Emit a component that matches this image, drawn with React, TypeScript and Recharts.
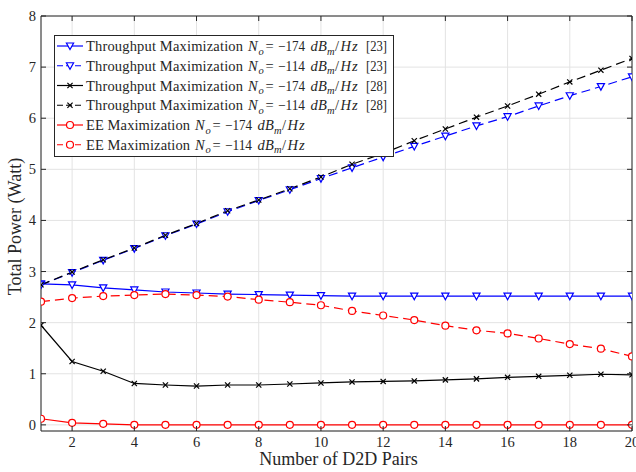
import React from 'react';
import { LineChart, Line, XAxis, YAxis, CartesianGrid, ReferenceArea, Legend } from 'recharts';

const pairs = [1, 2, 3, 4, 5, 6, 7, 8, 9, 10, 11, 12, 13, 14, 15, 16, 17, 18, 19, 20];
const tm174ref23 = [2.76, 2.74, 2.68, 2.64, 2.6, 2.58, 2.56, 2.55, 2.54, 2.53, 2.52, 2.52, 2.52, 2.52, 2.52, 2.52, 2.52, 2.52, 2.52, 2.52];
const tm114ref23 = [2.74, 2.98, 3.22, 3.45, 3.7, 3.93, 4.17, 4.39, 4.6, 4.82, 5.03, 5.24, 5.45, 5.65, 5.85, 6.03, 6.24, 6.44, 6.62, 6.81];
const tm174ref28 = [1.95, 1.24, 1.05, 0.81, 0.78, 0.76, 0.78, 0.78, 0.8, 0.82, 0.84, 0.85, 0.86, 0.88, 0.9, 0.93, 0.95, 0.97, 0.99, 0.98];
const tm114ref28 = [2.74, 2.99, 3.23, 3.46, 3.71, 3.94, 4.19, 4.4, 4.62, 4.85, 5.1, 5.31, 5.56, 5.79, 6.02, 6.24, 6.47, 6.71, 6.94, 7.17];
const ee174 = [0.12, 0.04, 0.02, 0, 0, 0, 0, 0, 0, 0, 0, 0, 0, 0, 0, 0, 0, 0, 0, 0];
const ee114 = [2.41, 2.48, 2.52, 2.54, 2.56, 2.54, 2.51, 2.45, 2.4, 2.34, 2.23, 2.14, 2.05, 1.94, 1.85, 1.79, 1.69, 1.58, 1.49, 1.34];

const xTicks = [2, 4, 6, 8, 10, 12, 14, 16, 18, 20];
const yTicks = [0, 1, 2, 3, 4, 5, 6, 7, 8];

const seriesKeys = ['tm174ref23', 'tm114ref23', 'tm174ref28', 'tm114ref28', 'ee174', 'ee114'];
const seriesValues = [tm174ref23, tm114ref23, tm174ref28, tm114ref28, ee174, ee114];
const seriesPrefix = [
  'Throughput Maximization',
  'Throughput Maximization',
  'Throughput Maximization',
  'Throughput Maximization',
  'EE Maximization',
  'EE Maximization',
];
const seriesNoise = ['174', '114', '174', '114', '174', '114'];
const seriesRef = ['[23]', '[23]', '[28]', '[28]', '', ''];
const seriesColor = ['#0000ff', '#0000ff', '#000000', '#000000', '#ff0000', '#ff0000'];
const seriesDashed = [false, true, false, true, false, true];
const seriesMarker = ['tri', 'tri', 'x', 'x', 'circle', 'circle'];

const data = pairs.map((p, i) => {
  const row: Record<string, number> = { x: p };
  seriesKeys.forEach((k, j) => {
    row[k] = seriesValues[j][i];
  });
  return row;
});

const W = 636;
const H = 472;
const M = { top: 16, right: 4, left: 0, bottom: 0 };
const YW = 41;
const XH = 41;
const plotW = W - M.left - M.right - YW;
const plotH = H - M.top - M.bottom - XH;
const FONT = '"Liberation Serif", "Times New Roman", serif';
const AX = '#262626';

// legend box geometry
const LG = { left: 54, top: 35, width: 339, height: 121, row: 19.75, first: 11 };

function Marker({ kind, cx, cy, color }: { kind: string; cx: number; cy: number; color: string }) {
  if (kind === 'tri') {
    const pts = `${cx - 3.6},${cy - 3} ${cx + 3.6},${cy - 3} ${cx},${cy + 3.6}`;
    return <polygon points={pts} fill="#fff" stroke={color} strokeWidth={1.2} />;
  }
  if (kind === 'x') {
    const s = 2.6;
    return (
      <g stroke={color} strokeWidth={1.2}>
        <line x1={cx - s} y1={cy - s} x2={cx + s} y2={cy + s} />
        <line x1={cx - s} y1={cy + s} x2={cx + s} y2={cy - s} />
      </g>
    );
  }
  return <circle cx={cx} cy={cy} r={3.5} fill="#fff" stroke={color} strokeWidth={1.2} />;
}

const makeDot = (kind: string, color: string) => (props: any) => {
  const { cx, cy, index } = props;
  if (cx == null || cy == null) return <g key={index} />;
  return (
    <g key={`${kind}-${index}`}>
      <Marker kind={kind} cx={cx} cy={cy} color={color} />
    </g>
  );
};

const XTick = (props: any) => {
  const { x, y, payload } = props;
  return (
    <g>
      <line x1={x} y1={y} x2={x} y2={y - 5} stroke={AX} />
      <line x1={x} y1={y - plotH} x2={x} y2={y - plotH + 5} stroke={AX} />
      <text x={x} y={y + 16} textAnchor="middle" fontFamily={FONT} fontSize={14.5} fill={AX}>
        {payload.value}
      </text>
    </g>
  );
};

const YTick = (props: any) => {
  const { x, y, payload } = props;
  return (
    <g>
      <line x1={x} y1={y} x2={x + 5} y2={y} stroke={AX} />
      <line x1={x + plotW} y1={y} x2={x + plotW - 5} y2={y} stroke={AX} />
      <text x={x - 5} y={y + 5} textAnchor="end" fontFamily={FONT} fontSize={14.5} fill={AX}>
        {payload.value}
      </text>
    </g>
  );
};

const LegendBox = () => (
  <svg width={LG.width + 1} height={LG.height + 1} style={{ display: 'block' }}>
    <rect x={0.5} y={0.5} width={LG.width} height={LG.height} fill="#fff" stroke={AX} strokeWidth={1} />
    {seriesKeys.map((k, i) => {
      const cy = LG.first + i * LG.row;
      const base = cy + 5;
      const isTM = seriesPrefix[i].length > 16;
      const prefixLen = isTM ? 157 : 104;
      const tx = 32;
      const n0 = tx + prefixLen + 5;
      return (
        <g key={k}>
          <line
            x1={3}
            y1={cy}
            x2={29}
            y2={cy}
            stroke={seriesColor[i]}
            strokeWidth={1.2}
            strokeDasharray={seriesDashed[i] ? '6 3' : undefined}
          />
          <Marker kind={seriesMarker[i]} cx={16} cy={cy} color={seriesColor[i]} />
          <text y={base} fontFamily={FONT} fontSize={14.5} fill={AX}>
            <tspan x={tx} textLength={prefixLen} lengthAdjust="spacing">
              {seriesPrefix[i]}
            </tspan>
            <tspan x={n0} fontStyle="italic">N</tspan>
            <tspan x={n0 + 10.5} dy={3.5} fontStyle="italic" fontSize={10.5}>o</tspan>
            <tspan x={n0 + 17.5} dy={-3.5}>=</tspan>
            <tspan x={n0 + 30} textLength={27} lengthAdjust="spacingAndGlyphs">{`−${seriesNoise[i]}`}</tspan>
            <tspan x={n0 + 62.5} fontStyle="italic">d</tspan>
            <tspan x={n0 + 70} fontStyle="italic">B</tspan>
            <tspan x={n0 + 79} dy={3.5} fontStyle="italic" fontSize={10.5}>m</tspan>
            <tspan x={n0 + 87} dy={-3.5}>/</tspan>
            <tspan x={n0 + 92.5} fontStyle="italic">H</tspan>
            <tspan x={n0 + 104} fontStyle="italic">z</tspan>
            {seriesRef[i] ? (
              <tspan x={n0 + 118} textLength={21} lengthAdjust="spacingAndGlyphs">
                {seriesRef[i]}
              </tspan>
            ) : null}
          </text>
        </g>
      );
    })}
  </svg>
);

const YLabel = (props: any) => {
  const vb = props.viewBox || { x: 0, y: M.top, width: YW, height: plotH };
  const cx = vb.x + 21;
  const cy = vb.y + vb.height / 2 + 3;
  return (
    <text
      x={cx}
      y={cy}
      transform={`rotate(-90 ${cx} ${cy})`}
      textAnchor="middle"
      fontFamily={FONT}
      fontSize={18}
      fill={AX}
    >
      Total Power (Watt)
    </text>
  );
};

const XLabel = (props: any) => {
  const vb = props.viewBox || { x: YW, y: M.top + plotH, width: plotW, height: XH };
  return (
    <text x={vb.x + vb.width / 2 + 2} y={vb.y + 34} textAnchor="middle" fontFamily={FONT} fontSize={18} fill={AX}>
      Number of D2D Pairs
    </text>
  );
};

export default function App() {
  return (
    <div style={{ position: 'absolute', left: 0, top: 0, width: W, height: H, background: '#fff' }}>
      <LineChart width={W} height={H} data={data} margin={M}>
        <CartesianGrid stroke="#e3e3e3" strokeWidth={1} />
        <XAxis
          dataKey="x"
          type="number"
          domain={[1, 20]}
          ticks={xTicks}
          allowDataOverflow
          height={XH}
          tickSize={0}
          tickMargin={0}
          axisLine={false}
          tickLine={false}
          tick={<XTick />}
          interval={0}
          label={<XLabel />}
        />
        <YAxis
          type="number"
          domain={[-0.12, 8]}
          ticks={yTicks}
          allowDataOverflow
          width={YW}
          tickSize={0}
          tickMargin={0}
          axisLine={false}
          tickLine={false}
          tick={<YTick />}
          interval={0}
          label={<YLabel />}
        />
        <ReferenceArea x1={1} x2={20} y1={-0.12} y2={8} fill="none" stroke={AX} strokeWidth={1} ifOverflow="visible" />
        {seriesKeys.map((k, i) => (
          <Line
            key={k}
            dataKey={k}
            type="linear"
            stroke={seriesColor[i]}
            strokeWidth={1.2}
            strokeDasharray={seriesDashed[i] ? '9 5' : undefined}
            dot={makeDot(seriesMarker[i], seriesColor[i])}
            activeDot={false}
            isAnimationActive={false}
          />
        ))}
        <Legend
          layout="vertical"
          align="center"
          verticalAlign="middle"
          content={<LegendBox />}
          wrapperStyle={{ left: LG.left, top: LG.top, width: 'auto' }}
        />
      </LineChart>
    </div>
  );
}
